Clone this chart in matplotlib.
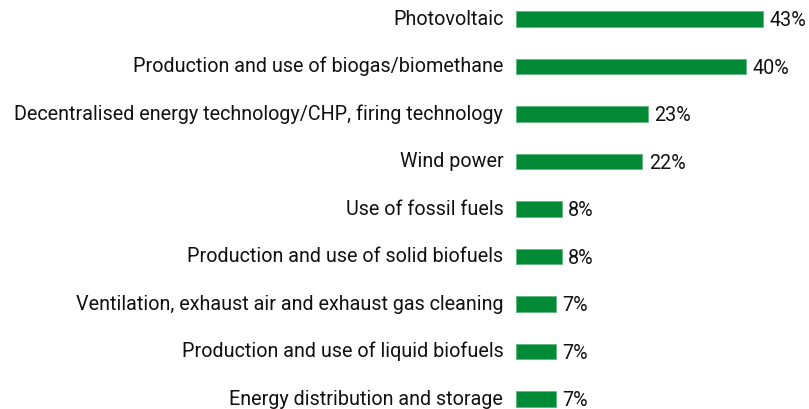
import matplotlib
matplotlib.use("Agg")
import matplotlib.pyplot as plt

# categories and shares (%)
categories = [
    "Photovoltaic",
    "Production and use of biogas/biomethane",
    "Decentralised energy technology/CHP, firing technology",
    "Wind power",
    "Use of fossil fuels",
    "Production and use of solid biofuels",
    "Ventilation, exhaust air and exhaust gas cleaning",
    "Production and use of liquid biofuels",
    "Energy distribution and storage",
]
values = [43, 40, 23, 22, 8, 8, 7, 7, 7]

green = "#038a36"
plt.rcParams["font.family"] = ["Roboto", "DejaVu Sans"]

fig = plt.figure(figsize=(8.09, 4.09), dpi=100)
ax = fig.add_axes([516 / 809, 0, 1 - 516 / 809, 1])

y = list(range(len(categories)))
ax.barh(y, values, height=0.32, color=green, edgecolor="#5fb77d", linewidth=0.6)

for yi, v in zip(y, values):
    ax.text(v + 1.1, yi + 0.04, f"{v}%", va="center", ha="left", fontsize=14.2, color="#111111")
    ax.text(-2.2, yi, categories[yi], va="center", ha="right", fontsize=14.2,
            color="#111111", clip_on=False)

ax.set_xlim(0, 51)
ax.set_ylim(8.21, -0.4)
ax.axis("off")

fig.savefig("out.png", dpi=100)
